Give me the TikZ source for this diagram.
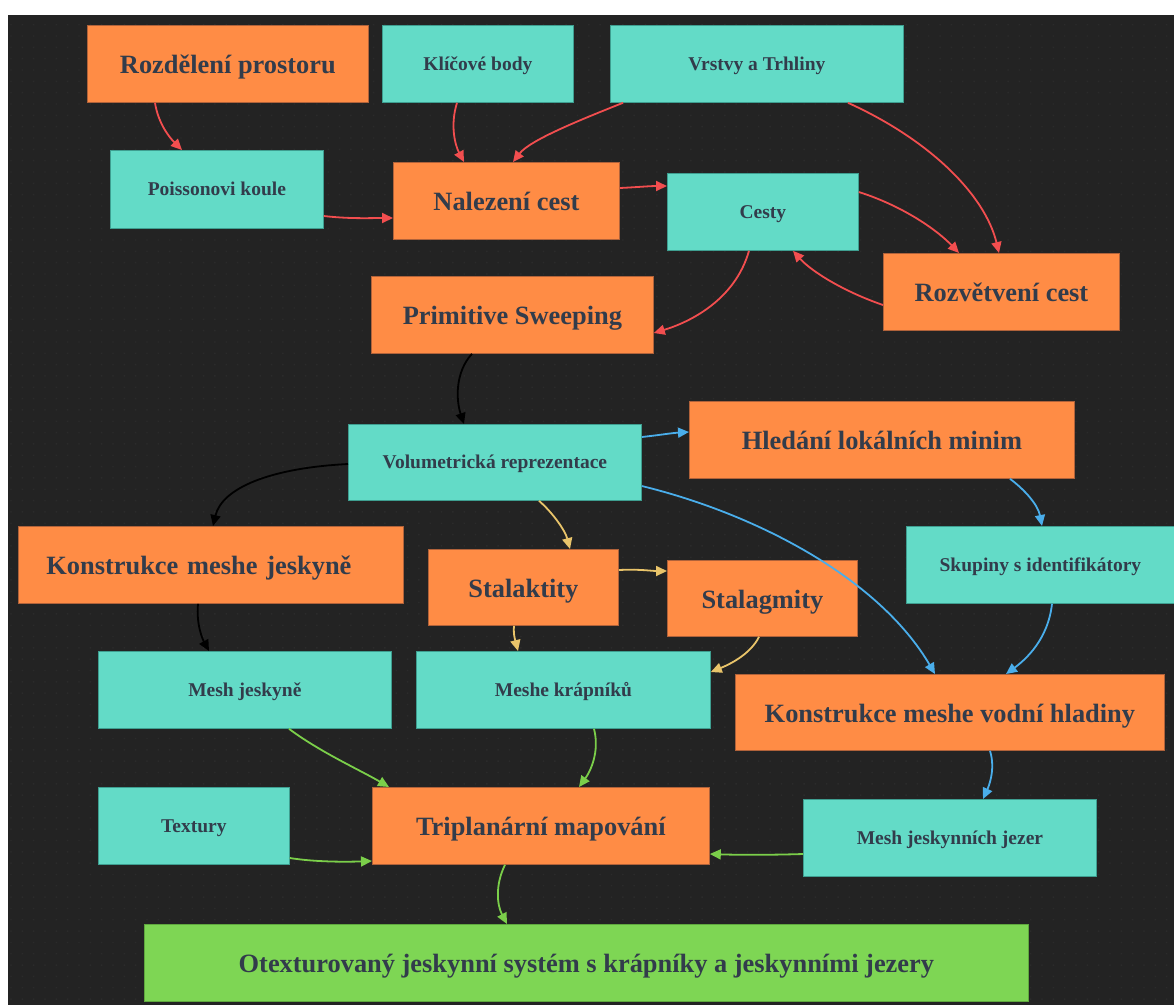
\documentclass[tikz,border=0pt]{standalone}
\usepackage{fontspec}
\setmainfont{Liberation Serif}
\usetikzlibrary{arrows.meta,calc}
\definecolor{bg}{HTML}{232323}
\definecolor{dotc}{HTML}{2B2B2B}
\definecolor{orng}{HTML}{FF8C45}
\definecolor{orngb}{HTML}{B0623A}
\definecolor{tealc}{HTML}{63DBC7}
\definecolor{tealb}{HTML}{3E9E90}
\definecolor{grn}{HTML}{7ED654}
\definecolor{grnb}{HTML}{5FA83E}
\definecolor{txt}{HTML}{323C4B}
\definecolor{redc}{HTML}{F24E4F}
\definecolor{bluec}{HTML}{4AAEEB}
\definecolor{yelc}{HTML}{E9C46A}
\definecolor{grnc}{HTML}{7BCF4A}
\tikzset{
  box/.style={anchor=north west, inner sep=0pt, text=txt, line width=0.8pt},
  bigfont/.style={font=\fontsize{26.4}{30}\selectfont\bfseries, text height=22.6pt, text depth=2.6pt},
  smallfont/.style={font=\fontsize{19.5}{23}\selectfont\bfseries, text height=15pt, text depth=2pt},
  obox/.style={box, fill=orng, draw=orngb, bigfont},
  tbox/.style={box, fill=tealc, draw=tealb, smallfont},
  gbox/.style={box, fill=grn, draw=grnb, bigfont},
  conn/.style={line width=1.8pt, -{Triangle[length=11pt,width=10pt]}},
}
\begin{document}
\begin{tikzpicture}[x=1pt,y=-1pt]
\useasboundingbox (0,0) rectangle (1174,1005);
\fill[white] (0,0) rectangle (1174,1005);
\fill[bg] (8,15) rectangle (1174,1005);
\foreach \j in {0,...,86} {
  \fill[dotc] \foreach \i in {0,...,102} {({10.3+11.33*\i},{24+11.33*\j}) rectangle ++(1.4,1.4)};
}
% nodes
\node[obox, minimum width=281pt, minimum height=77pt] (rp) at (87,25) {Rozdělení prostoru};
\node[tbox, minimum width=191pt, minimum height=77pt] (kb) at (382,25) {Klíčové body};
\node[tbox, minimum width=293pt, minimum height=77pt] (vt) at (610,25) {Vrstvy a Trhliny};
\node[tbox, minimum width=213pt, minimum height=78pt] (pk) at (110,150) {Poissonovi koule};
\node[obox, minimum width=226pt, minimum height=77pt] (nc) at (393,162) {Nalezení cest};
\node[tbox, minimum width=191pt, minimum height=77pt] (ce) at (667,173) {Cesty};
\node[obox, minimum width=236pt, minimum height=77pt] (rc) at (883,253) {Rozvětvení cest};
\node[obox, minimum width=282pt, minimum height=77pt] (ps) at (371,276) {Primitive Sweeping};
\node[tbox, minimum width=293pt, minimum height=76pt] (vr) at (348,424) {Volumetrická reprezentace};
\node[obox, minimum width=385pt, minimum height=77pt] (hl) at (689,401) {Hledání lokálních minim};
\node[obox, minimum width=385pt, minimum height=77pt, text width=329pt, align=left] (kj) at (18,526) {Konstrukce meshe jeskyně};
\node[obox, minimum width=190pt, minimum height=76pt] (sk) at (428,549) {Stalaktity};
\node[obox, minimum width=190pt, minimum height=76pt] (sm) at (667,560) {Stalagmity};
\node[tbox, minimum width=268pt, minimum height=77pt] (si) at (906,526) {Skupiny s identifikátory};
\node[tbox, minimum width=293pt, minimum height=77pt] (mj) at (98,651) {Mesh jeskyně};
\node[tbox, minimum width=294pt, minimum height=77pt] (mk) at (416,651) {Meshe krápníků};
\node[obox, minimum width=429pt, minimum height=76pt] (kv) at (735,674) {Konstrukce meshe vodní hladiny};
\node[tbox, minimum width=191pt, minimum height=77pt] (tx) at (98,787) {Textury};
\node[obox, minimum width=337pt, minimum height=77pt] (tm) at (372,787) {Triplanární mapování};
\node[tbox, minimum width=293pt, minimum height=77pt] (jj) at (803,799) {Mesh jeskynních jezer};
\node[gbox, minimum width=884pt, minimum height=77pt] (ot) at (144,924) {Otexturovaný jeskynní systém s krápníky a jeskynními jezery};
% red connectors
\draw[conn, redc] ($(rp.south west)+(68,0)$) .. controls (158,122) and (168,136) .. ($(pk.north west)+(72,0)$);
\draw[conn, redc] ($(kb.south west)+(75,0)$) .. controls (450,125) and (455,145) .. ($(nc.north west)+(71,0)$);
\draw[conn, redc] ($(vt.south west)+(13,0)$) .. controls (580,120) and (530,140) .. ($(nc.north west)+(120,0)$);
\draw[conn, redc] ($(pk.north east)+(0,66)$) .. controls (350,219) and (370,218) .. ($(nc.north west)+(0,56)$);
\draw[conn, redc] ($(nc.north east)+(0,26)$) .. controls (640,187) and (650,186) .. ($(ce.north west)+(0,13)$);
\draw[conn, redc] ($(ce.north east)+(0,19)$) .. controls (900,205) and (935,228) .. ($(rc.north west)+(76,0)$);
\draw[conn, redc] ($(vt.south west)+(238,0)$) .. controls (930,140) and (985,195) .. ($(rc.north west)+(116,0)$);
\draw[conn, redc] ($(rc.north west)+(0,52)$) .. controls (845,292) and (812,272) .. ($(ce.south west)+(126,0)$);
\draw[conn, redc] ($(ce.south west)+(82,0)$) .. controls (735,300) and (690,322) .. ($(ps.north east)+(0,57)$);
% black connectors
\draw[conn, black] ($(ps.south west)+(101,0)$) .. controls (455,372) and (456,400) .. ($(vr.north west)+(116,0)$);
\draw[conn, black] ($(vr.north west)+(0,40)$) .. controls (270,468) and (222,488) .. ($(kj.north west)+(195,0)$);
\draw[conn, black] ($(kj.south west)+(180,0)$) .. controls (196,625) and (203,640) .. ($(mj.north west)+(111,0)$);
% blue connectors
\draw[conn, bluec] ($(vr.north east)+(0,13)$) .. controls (660,435) and (672,433) .. ($(hl.north west)+(0,31)$);
\draw[conn, bluec] ($(vr.north east)+(0,62)$) .. controls (760,515) and (880,580) .. ($(kv.north west)+(200,0)$);
\draw[conn, bluec] ($(hl.south west)+(321,0)$) .. controls (1025,490) and (1038,505) .. ($(si.north west)+(136,0)$);
\draw[conn, bluec] ($(si.south west)+(146,0)$) .. controls (1048,640) and (1025,660) .. ($(kv.north west)+(271,0)$);
\draw[conn, bluec] ($(kv.south west)+(255,0)$) .. controls (996,770) and (988,788) .. ($(jj.north west)+(180,0)$);
% yellow connectors
\draw[conn, yelc] ($(vr.south west)+(191,0)$) .. controls (552,512) and (565,530) .. ($(sk.north west)+(142,0)$);
\draw[conn, yelc] ($(sk.north east)+(0,21)$) .. controls (640,569) and (652,571) .. ($(sm.north west)+(0,11)$);
\draw[conn, yelc] ($(sk.south west)+(86,0)$) .. controls (513,635) and (516,643) .. ($(mk.north west)+(102,0)$);
\draw[conn, yelc] ($(sm.south west)+(92,0)$) .. controls (750,655) and (728,665) .. ($(mk.north east)+(0,21)$);
% green connectors
\draw[conn, grnc] ($(mj.south west)+(191,0)$) .. controls (320,752) and (360,770) .. ($(tm.north west)+(17,0)$);
\draw[conn, grnc] ($(mk.south west)+(178,0)$) .. controls (600,752) and (590,772) .. ($(tm.north west)+(207,0)$);
\draw[conn, grnc] ($(tx.north east)+(0,71)$) .. controls (315,862) and (345,862) .. ($(tm.north west)+(0,74)$);
\draw[conn, grnc] ($(jj.north west)+(0,55)$) .. controls (770,855) and (740,855) .. ($(tm.north east)+(0,67)$);
\draw[conn, grnc] ($(tm.south west)+(133,0)$) .. controls (495,885) and (497,905) .. ($(ot.north west)+(363,0)$);
\end{tikzpicture}
\end{document}
